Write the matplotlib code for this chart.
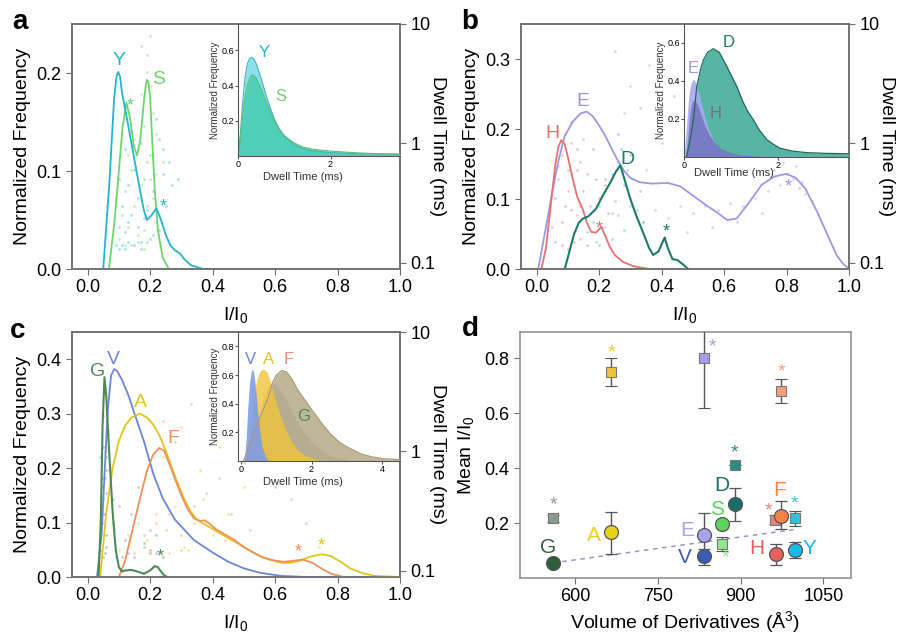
import numpy as np
import matplotlib
matplotlib.use("Agg")
import matplotlib.pyplot as plt

plt.rcParams['font.family'] = ['Liberation Sans', 'DejaVu Sans']
plt.rcParams['mathtext.default'] = 'regular'

# ---------------- panel a : Y and S ----------------
y_curve_x = [0.05, 0.07, 0.085, 0.093, 0.098, 0.104, 0.11, 0.125, 0.145, 0.165, 0.18, 0.19, 0.205, 0.22, 0.235, 0.25, 0.265, 0.28, 0.295, 0.31, 0.33, 0.35, 0.37]
y_curve_y = [0, 0.09, 0.175, 0.197, 0.201, 0.196, 0.18, 0.155, 0.12, 0.085, 0.06, 0.05, 0.055, 0.062, 0.05, 0.035, 0.024, 0.019, 0.016, 0.01, 0.004, 0.002, 0]
s_curve_x = [0.068, 0.085, 0.1, 0.112, 0.124, 0.135, 0.148, 0.158, 0.168, 0.18, 0.186, 0.19, 0.195, 0.2, 0.207, 0.215, 0.225, 0.24, 0.26]
s_curve_y = [0, 0.045, 0.1, 0.145, 0.17, 0.155, 0.125, 0.116, 0.13, 0.17, 0.187, 0.193, 0.19, 0.175, 0.13, 0.08, 0.04, 0.012, 0]

y_dots_x = [0.09, 0.10, 0.11, 0.12, 0.13, 0.14, 0.15, 0.16, 0.17, 0.18, 0.19, 0.2, 0.21, 0.22, 0.23, 0.24, 0.25, 0.26, 0.09, 0.1,
            0.11, 0.12, 0.13, 0.15, 0.17, 0.19, 0.21, 0.23, 0.12, 0.14, 0.16, 0.18, 0.2, 0.22, 0.24, 0.27, 0.29, 0.1, 0.13, 0.17]
y_dots_t = [0.14, 0.2, 0.3, 0.18, 0.45, 0.25, 0.6, 0.35, 0.15, 0.5, 0.28, 0.8, 0.4, 0.22, 1.1, 0.55, 0.3, 0.7, 0.35, 0.13,
            0.14, 0.13, 0.15, 0.14, 0.13, 0.15, 0.17, 0.19, 0.9, 1.3, 0.2, 0.24, 0.16, 1.6, 0.9, 0.45, 0.5, 0.5, 0.22, 1.0]
s_dots_x = [0.1, 0.11, 0.12, 0.13, 0.14, 0.15, 0.16, 0.17, 0.18, 0.19, 0.2, 0.21, 0.22, 0.23, 0.12, 0.14, 0.16, 0.18, 0.19, 0.2,
            0.21, 0.15, 0.17, 0.19, 0.13, 0.18, 0.2, 0.22, 0.24, 0.16, 0.19, 0.21, 0.17, 0.2]
s_dots_t = [0.16, 0.25, 0.4, 0.2, 0.6, 0.3, 0.9, 0.45, 1.4, 0.7, 2.2, 0.35, 0.55, 0.25, 0.14, 0.14, 0.15, 0.13, 4.0, 3.0,
            1.8, 1.1, 2.6, 5.5, 0.8, 0.19, 0.5, 1.2, 0.7, 0.17, 0.3, 0.8, 6.5, 8.0]

ins_a_t = [0, 0.05, 0.1, 0.15, 0.2, 0.25, 0.3, 0.35, 0.4, 0.5, 0.6, 0.7, 0.8, 0.9, 1.0, 1.2, 1.4, 1.6, 2.0, 2.5, 3.0, 3.5]
ins_y_f = [0, 0.12, 0.3, 0.44, 0.52, 0.555, 0.56, 0.55, 0.52, 0.44, 0.35, 0.27, 0.2, 0.15, 0.11, 0.065, 0.04, 0.028, 0.018, 0.012, 0.01, 0.008]
ins_s_f = [0, 0.08, 0.22, 0.33, 0.4, 0.44, 0.46, 0.455, 0.44, 0.38, 0.31, 0.25, 0.19, 0.15, 0.115, 0.075, 0.05, 0.038, 0.027, 0.018, 0.012, 0.01]

# ---------------- panel b : E, H, D ----------------
e_curve_x = [0.005, 0.03, 0.05, 0.07, 0.09, 0.115, 0.14, 0.16, 0.18, 0.2, 0.22, 0.24, 0.26, 0.28, 0.3, 0.33, 0.37, 0.42, 0.46, 0.5,
             0.54, 0.58, 0.61, 0.64, 0.68, 0.72, 0.76, 0.8, 0.83, 0.86, 0.9, 0.93, 0.96, 0.98, 1.0]
e_curve_y = [0, 0.06, 0.11, 0.155, 0.19, 0.21, 0.222, 0.225, 0.218, 0.205, 0.19, 0.172, 0.155, 0.14, 0.13, 0.124, 0.122, 0.123, 0.118, 0.105,
             0.092, 0.08, 0.07, 0.072, 0.095, 0.12, 0.132, 0.136, 0.13, 0.115, 0.08, 0.05, 0.02, 0.008, 0]
h_curve_x = [0.015, 0.03, 0.045, 0.06, 0.07, 0.079, 0.09, 0.1, 0.115, 0.13, 0.148, 0.162, 0.175, 0.19, 0.207, 0.22, 0.234, 0.25, 0.277, 0.31, 0.36]
h_curve_y = [0, 0.03, 0.09, 0.15, 0.175, 0.184, 0.178, 0.16, 0.13, 0.103, 0.085, 0.065, 0.053, 0.052, 0.06, 0.047, 0.032, 0.02, 0.01, 0.004, 0.0]
d_curve_x = [0.09, 0.105, 0.12, 0.135, 0.148, 0.165, 0.19, 0.212, 0.234, 0.255, 0.268, 0.28, 0.3, 0.32, 0.341, 0.36, 0.373, 0.39, 0.41, 0.42,
             0.435, 0.45, 0.47, 0.485]
d_curve_y = [0, 0.025, 0.05, 0.066, 0.072, 0.075, 0.086, 0.105, 0.122, 0.14, 0.148, 0.13, 0.1, 0.075, 0.052, 0.03, 0.02, 0.025, 0.045, 0.03,
             0.014, 0.013, 0.006, 0]

h_dots_x = [0.05, 0.06, 0.07, 0.08, 0.09, 0.1, 0.11, 0.12, 0.13, 0.14, 0.15, 0.16, 0.17, 0.18, 0.19, 0.2, 0.06, 0.08, 0.1, 0.12,
            0.14, 0.16, 0.07, 0.09, 0.11, 0.13, 0.15, 0.08, 0.1, 0.12, 0.14, 0.22, 0.24, 0.11, 0.13]
h_dots_t = [0.2, 0.35, 0.5, 0.8, 0.3, 0.6, 1.0, 0.45, 0.25, 0.7, 0.4, 0.55, 0.3, 0.9, 0.5, 0.35, 0.15, 0.14, 0.13, 0.15,
            0.16, 0.14, 0.65, 1.2, 0.28, 0.9, 1.1, 0.22, 0.4, 0.18, 0.3, 0.45, 0.26, 1.5, 0.6]
e_dots_x = [0.22, 0.26, 0.3, 0.34, 0.38, 0.42, 0.46, 0.5, 0.54, 0.58, 0.62, 0.66, 0.7, 0.74, 0.78, 0.8, 0.82, 0.84, 0.86, 0.88,
            0.76, 0.79, 0.83, 0.85, 0.3, 0.36, 0.44, 0.52, 0.6, 0.68, 0.25, 0.33, 0.48, 0.56, 0.64, 0.72, 0.35, 0.28, 0.4, 0.9]
e_dots_t = [0.2, 0.25, 0.3, 0.22, 0.28, 0.24, 0.3, 0.26, 0.3, 0.28, 0.32, 0.3, 0.35, 0.4, 0.45, 0.55, 0.5, 0.42, 0.38, 0.33,
            0.6, 0.7, 0.65, 0.48, 3.0, 4.5, 2.5, 1.2, 0.9, 1.5, 6.0, 2.0, 0.18, 0.2, 0.22, 0.26, 0.6, 1.8, 1.0, 0.25]
d_dots_x = [0.16, 0.18, 0.2, 0.22, 0.24, 0.26, 0.28, 0.3, 0.32, 0.34, 0.19, 0.21, 0.23, 0.25, 0.27, 0.29, 0.31, 0.2, 0.24, 0.28,
            0.26, 0.3, 0.22, 0.33]
d_dots_t = [0.18, 0.22, 0.3, 0.4, 0.55, 0.7, 0.45, 0.35, 0.28, 0.22, 0.15, 0.2, 0.26, 0.33, 0.9, 0.6, 0.5, 0.14, 0.16, 0.19,
            1.2, 0.8, 0.5, 0.4]

ins_d_t = [0.05, 0.1, 0.15, 0.2, 0.27, 0.35, 0.41, 0.5, 0.62, 0.75, 0.9, 1.0, 1.12, 1.25, 1.35, 1.47, 1.6, 1.76, 1.9, 2.04, 2.3, 2.6, 3.0, 3.5]
ins_d_f = [0, 0.05, 0.12, 0.195, 0.37, 0.46, 0.51, 0.55, 0.57, 0.55, 0.48, 0.43, 0.37, 0.29, 0.24, 0.195, 0.14, 0.09, 0.065, 0.045, 0.03, 0.022, 0.018, 0.016]
ins_e_t = [0, 0.05, 0.1, 0.15, 0.2, 0.25, 0.3, 0.35, 0.4, 0.5, 0.6, 0.7, 0.8, 1.0, 1.2, 1.5, 2.0, 3.5]
ins_e_f = [0, 0.15, 0.32, 0.39, 0.41, 0.39, 0.35, 0.3, 0.25, 0.16, 0.1, 0.06, 0.035, 0.015, 0.008, 0.005, 0.003, 0.002]
ins_h_t = [0.03, 0.08, 0.12, 0.17, 0.22, 0.28, 0.35, 0.45, 0.55, 0.65, 0.8, 1.0, 1.2, 1.5, 2.0]
ins_h_f = [0, 0.1, 0.22, 0.29, 0.3, 0.28, 0.23, 0.16, 0.11, 0.075, 0.04, 0.02, 0.01, 0.005, 0.002]

# ---------------- panel c : G, V, A, F ----------------
g_curve_x = [0.035, 0.042, 0.048, 0.054, 0.06, 0.066, 0.072, 0.08, 0.09, 0.1, 0.11, 0.12, 0.14, 0.16, 0.18, 0.2, 0.215, 0.225, 0.235, 0.245, 0.255]
g_curve_y = [0, 0.1, 0.28, 0.367, 0.33, 0.26, 0.2, 0.12, 0.05, 0.018, 0.01, 0.012, 0.013, 0.01, 0.006, 0.012, 0.02, 0.018, 0.01, 0.003, 0]
v_curve_x = [0.03, 0.045, 0.055, 0.065, 0.075, 0.085, 0.095, 0.11, 0.13, 0.15, 0.18, 0.21, 0.24, 0.28, 0.34, 0.4, 0.45, 0.5, 0.55, 0.62, 0.7, 1.0]
v_curve_y = [0, 0.08, 0.2, 0.31, 0.37, 0.382, 0.378, 0.362, 0.335, 0.3, 0.25, 0.19, 0.145, 0.105, 0.068, 0.045, 0.028, 0.016, 0.008, 0.002, 0, 0]
a_curve_x = [0.04, 0.06, 0.08, 0.1, 0.12, 0.14, 0.167, 0.19, 0.21, 0.23, 0.25, 0.27, 0.29, 0.31, 0.33, 0.35, 0.38, 0.41, 0.44, 0.47,
             0.5, 0.54, 0.58, 0.62, 0.65, 0.68, 0.71, 0.75, 0.78, 0.81, 0.84, 0.88, 0.92, 1.0]
a_curve_y = [0, 0.12, 0.2, 0.25, 0.278, 0.293, 0.3, 0.293, 0.28, 0.26, 0.232, 0.2, 0.17, 0.142, 0.12, 0.105, 0.095, 0.085, 0.075, 0.065,
             0.055, 0.042, 0.032, 0.026, 0.026, 0.03, 0.037, 0.042, 0.038, 0.028, 0.016, 0.007, 0.002, 0]
f_curve_x = [0.1, 0.12, 0.145, 0.17, 0.19, 0.21, 0.229, 0.245, 0.26, 0.28, 0.3, 0.32, 0.34, 0.36, 0.375, 0.39, 0.41, 0.44, 0.47, 0.5,
             0.53, 0.56, 0.6, 0.63, 0.66, 0.69, 0.72, 0.75, 0.78, 0.82]
f_curve_y = [0, 0.03, 0.09, 0.15, 0.195, 0.225, 0.237, 0.232, 0.21, 0.18, 0.15, 0.125, 0.108, 0.103, 0.104, 0.098, 0.088, 0.078, 0.068, 0.055,
             0.045, 0.036, 0.03, 0.028, 0.03, 0.032, 0.026, 0.015, 0.006, 0]

g_dots_x = [0.04, 0.045, 0.05, 0.055, 0.06, 0.065, 0.05, 0.055, 0.06, 0.045, 0.05, 0.055, 0.06, 0.05, 0.2, 0.22, 0.24, 0.18]
g_dots_t = [0.15, 0.25, 0.4, 0.6, 0.9, 1.4, 2.0, 0.3, 0.2, 0.5, 0.13, 0.14, 0.7, 1.1, 0.15, 0.2, 0.13, 0.17]
v_dots_x = [0.04, 0.05, 0.06, 0.07, 0.08, 0.1, 0.12, 0.14, 0.16, 0.18, 0.2, 0.22, 0.045, 0.055, 0.065, 0.09, 0.11, 0.13, 0.15, 0.04, 0.06, 0.08]
v_dots_t = [0.2, 0.3, 0.45, 0.7, 0.25, 0.35, 0.18, 0.3, 0.5, 0.16, 0.22, 0.14, 0.6, 1.0, 1.5, 0.13, 0.13, 0.14, 0.13, 0.9, 0.16, 0.4]
a_dots_x = [0.1, 0.13, 0.16, 0.19, 0.22, 0.25, 0.28, 0.31, 0.34, 0.37, 0.4, 0.45, 0.5, 0.15, 0.2, 0.26, 0.32, 0.12, 0.18, 0.24, 0.3, 0.36, 0.42, 0.74]
a_dots_t = [0.15, 0.2, 0.25, 0.18, 0.3, 0.22, 0.35, 0.16, 0.25, 0.4, 0.2, 0.3, 0.5, 0.14, 0.14, 0.14, 0.15, 3.0, 1.2, 0.9, 1.6, 0.7, 1.1, 0.16]
f_dots_x = [0.18, 0.22, 0.26, 0.3, 0.34, 0.38, 0.42, 0.46, 0.5, 0.55, 0.6, 0.65, 0.7, 0.24, 0.28, 0.33, 0.4, 0.48, 0.56, 0.68, 0.2, 0.3, 0.44, 0.52]
f_dots_t = [0.2, 0.25, 0.3, 0.2, 0.35, 0.45, 0.6, 0.3, 0.8, 1.0, 0.5, 0.4, 0.25, 1.8, 1.2, 2.5, 2.0, 1.5, 3.0, 0.9, 0.14, 0.15, 0.18, 0.22]

ins_v_t = [0.1, 0.15, 0.2, 0.25, 0.3, 0.33, 0.36, 0.4, 0.45, 0.5, 0.55, 0.6, 0.7, 0.8]
ins_v_f = [0, 0.15, 0.38, 0.55, 0.63, 0.64, 0.62, 0.55, 0.42, 0.29, 0.18, 0.1, 0.03, 0]
ins_a2_t = [0.15, 0.25, 0.35, 0.45, 0.55, 0.64, 0.75, 0.85, 0.97, 1.1, 1.25, 1.4, 1.6, 1.8, 2.0, 2.3]
ins_a2_f = [0, 0.2, 0.42, 0.57, 0.63, 0.642, 0.62, 0.54, 0.43, 0.33, 0.23, 0.15, 0.08, 0.04, 0.02, 0]
ins_f_t = [0.2, 0.35, 0.5, 0.65, 0.8, 0.95, 1.1, 1.3, 1.5, 1.7, 2.0, 2.3, 2.6, 3.0]
ins_f_f = [0, 0.15, 0.33, 0.46, 0.53, 0.54, 0.5, 0.42, 0.32, 0.23, 0.13, 0.07, 0.03, 0.01]
ins_g_t = [0.07, 0.2, 0.35, 0.5, 0.65, 0.78, 0.9, 1.0, 1.16, 1.3, 1.45, 1.6, 1.8, 2.0, 2.3, 2.53, 2.8, 3.0, 3.4, 3.7, 4.0, 4.5]
ins_g_f = [0, 0.08, 0.18, 0.28, 0.37, 0.45, 0.55, 0.6, 0.632, 0.62, 0.57, 0.5, 0.43, 0.36, 0.26, 0.19, 0.13, 0.1, 0.05, 0.03, 0.018, 0.01]

# ---------------- panel d : mean I/I0 vs volume ----------------
res_names = ['G', 'A', 'E', 'V', 'S', 'D', 'F', 'H', 'Y']
res_volume = [560, 665, 834, 834, 867, 889, 974, 964, 998]
res_colors = ['#2f5f3a', '#e8d21a', '#a9a2ec', '#3b5bb5', '#5ad65a', '#1a6e6a', '#f0844a', '#e8605a', '#1ab8e8']
main_mean = [0.055, 0.166, 0.156, 0.081, 0.196, 0.269, 0.226, 0.088, 0.103]
main_lo = [0.055, 0.088, 0.08, 0.048, 0.196, 0.206, 0.178, 0.048, 0.072]
main_hi = [0.055, 0.239, 0.235, 0.106, 0.196, 0.329, 0.279, 0.124, 0.13]
sec_colors = ['#8c9c8c', '#f2c33a', '#a69de8', '#8ee88e', '#2a8a84', '#f0a080', '#e88080', '#30c0e0']
sec_volume = [560, 665, 834, 867, 889, 974, 963, 998]
sec_mean = [0.218, 0.75, 0.802, 0.124, 0.41, 0.68, 0.211, 0.218]
sec_lo = [0.205, 0.70, 0.619, 0.10, 0.41, 0.635, 0.195, 0.19]
sec_hi = [0.23, 0.80, 0.96, 0.148, 0.41, 0.724, 0.23, 0.245]
sec_star_y = [0.265, 0.82, 0.84, 0.072, 0.454, 0.75, 0.245, 0.268]
sec_star_x = [560, 665, 848, 872, 889, 974, 951, 998]
lab_x = [550, 634, 804, 798, 857, 865, 971, 929, 1024]
lab_y = [0.112, 0.156, 0.172, 0.076, 0.25, 0.338, 0.317, 0.106, 0.108]
trend_x = [560, 1000]
trend_y = [0.055, 0.177]

col = {'Y': '#22b5d0', 'S': '#6cd66c', 'E': '#9d97e6', 'H': '#e8706e', 'D': '#1e7a68',
       'V': '#6a86d8', 'A': '#e3c51c', 'F': '#f0905a', 'G': '#4a8b58'}

W, H = 903, 642
fig = plt.figure(figsize=(W / 100, H / 100), dpi=100)
spine_c = '#6e6e6e'


def frac(l, t, r, b):
    return [l / W, 1 - b / H, (r - l) / W, (b - t) / H]


def hist_panel(rect, ylim, yticks):
    ax = fig.add_axes(rect)
    tw = ax.twinx()
    ax.set_zorder(tw.get_zorder() + 1)
    ax.patch.set_visible(False)
    ax.set_xlim(-0.05, 1.0)
    ax.set_ylim(*ylim)
    ax.set_xticks(np.arange(0, 1.01, 0.2))
    ax.set_xticklabels(['%.1f' % v for v in np.arange(0, 1.01, 0.2)])
    ax.set_yticks(yticks)
    ax.set_yticklabels(['%.1f' % v for v in yticks])
    ax.tick_params(labelsize=13, direction='out', length=4, color=spine_c)
    ax.set_ylabel('Normalized Frequency', fontsize=14, labelpad=4)
    ax.set_xlabel('I/I$_0$', fontsize=14, labelpad=6)
    tw.set_yscale('log')
    tw.set_ylim(0.089, 10)
    tw.set_yticks([0.1, 1, 10])
    tw.set_yticklabels(['0.1', '1', '10'])
    tw.minorticks_off()
    tw.tick_params(labelsize=13, direction='out', length=4, color=spine_c)
    tw.set_ylabel('Dwell Time (ms)', fontsize=14, rotation=270, va='center')
    tw.yaxis.set_label_coords(1.115, 0.5)
    for a in (ax, tw):
        for s in a.spines.values():
            s.set_color(spine_c)
            s.set_linewidth(1.1)
    return ax, tw


def inset(ax, bounds, xlim, ylim, xticks, yticks, xlab_pos):
    ia = ax.inset_axes(bounds)
    ia.patch.set_visible(False)
    ia.set_xlim(*xlim)
    ia.set_ylim(*ylim)
    ia.set_xticks(xticks)
    ia.set_yticks(yticks)
    ia.set_yticklabels(['%.1f' % v for v in yticks])
    ia.tick_params(labelsize=6.5, direction='out', length=2, pad=1, color='#555555')
    ia.spines['top'].set_visible(False)
    ia.spines['right'].set_visible(False)
    for s in ('left', 'bottom'):
        ia.spines[s].set_color('#555555')
    ia.set_xlabel('Dwell Time (ms)', fontsize=8, color='#333333', va='center')
    ia.xaxis.set_label_coords(*xlab_pos)
    ia.set_ylabel('Normalized Frequency', fontsize=7, labelpad=1, color='#333333')
    return ia


dot_kw = dict(s=4, alpha=0.4, linewidths=0)

# ---- a ----
ax, tw = hist_panel(frac(72, 24, 400, 269), (0, 0.25), [0.0, 0.1, 0.2])
tw.scatter(s_dots_x, s_dots_t, color=col['S'], **dot_kw)
tw.scatter(y_dots_x, y_dots_t, color=col['Y'], **dot_kw)
ax.plot(s_curve_x, s_curve_y, color=col['S'], lw=1.3)
ax.plot(y_curve_x, y_curve_y, color=col['Y'], lw=1.3)
ax.text(0.099, 0.213, 'Y', color=col['Y'], fontsize=14, ha='center', va='center')
ax.text(0.228, 0.193, 'S', color=col['S'], fontsize=14, ha='center', va='center')
ax.text(0.138, 0.166, '*', color=col['S'], fontsize=13, ha='center', va='center')
ax.text(0.241, 0.063, '*', color=col['Y'], fontsize=13, ha='center', va='center')
ia = inset(ax, [0.506, 0.462, 0.494, 0.538], (0, 3.5), (0, 0.75), [0, 2], [0.2, 0.4, 0.6], (0.40, -0.16))
ia.fill_between(ins_a_t, ins_y_f, color='#7fdcec', alpha=0.9, lw=0)
ia.plot(ins_a_t, ins_y_f, color='#4ab0c0', lw=0.8)
ia.fill_between(ins_a_t, ins_s_f, color='#3ccaa8', alpha=0.75, lw=0)
ia.plot(ins_a_t, ins_s_f, color='#58c070', lw=0.8)
ia.text(0.56, 0.585, 'Y', color=col['Y'], fontsize=12, ha='center', va='center')
ia.text(0.92, 0.337, 'S', color=col['S'], fontsize=12, ha='center', va='center')

# ---- b ----
ax, tw = hist_panel(frac(521, 24, 849, 269), (0, 0.35), [0.0, 0.1, 0.2, 0.3])
tw.scatter(e_dots_x, e_dots_t, color=col['E'], **dot_kw)
tw.scatter(h_dots_x, h_dots_t, color=col['H'], **dot_kw)
tw.scatter(d_dots_x, d_dots_t, color='#40b0b8', **dot_kw)
ax.plot(e_curve_x, e_curve_y, color=col['E'], lw=1.3)
ax.plot(h_curve_x, h_curve_y, color=col['H'], lw=1.3)
ax.plot(d_curve_x, d_curve_y, color=col['D'], lw=1.5)
ax.text(0.148, 0.239, 'E', color=col['E'], fontsize=14, ha='center', va='center')
ax.text(0.052, 0.194, 'H', color=col['H'], fontsize=14, ha='center', va='center')
ax.text(0.292, 0.156, 'D', color=col['D'], fontsize=14, ha='center', va='center')
ax.text(0.202, 0.057, '*', color=col['H'], fontsize=13, ha='center', va='center')
ax.text(0.415, 0.053, '*', color=col['D'], fontsize=13, ha='center', va='center')
ax.text(0.805, 0.117, '*', color=col['E'], fontsize=13, ha='center', va='center')
ia = inset(ax, [0.497, 0.458, 0.503, 0.542], (0, 3.5), (0, 0.7), [0, 2], [0.2, 0.4, 0.6], (0.30, -0.125))
ia.fill_between(ins_d_t, ins_d_f, color='#4fb0a0', alpha=0.95, lw=0)
ia.plot(ins_d_t, ins_d_f, color='#1e6a5a', lw=0.9)
ia.fill_between(ins_e_t, ins_e_f, color='#a8a8f0', alpha=0.9, lw=0)
ia.fill_between(ins_h_t, ins_h_f, color='#5858a8', alpha=0.55, lw=0)
ia.text(0.94, 0.6, 'D', color=col['D'], fontsize=12, ha='center', va='center')
ia.text(0.2, 0.468, 'E', color=col['E'], fontsize=12, ha='center', va='center')
ia.text(0.66, 0.23, 'H', color='#7a6a7a', fontsize=12, ha='center', va='center')

# ---- c ----
ax, tw = hist_panel(frac(72, 332, 400, 577), (0, 0.45), [0.0, 0.1, 0.2, 0.3, 0.4])
tw.scatter(f_dots_x, f_dots_t, color=col['F'], **dot_kw)
tw.scatter(a_dots_x, a_dots_t, color=col['A'], **dot_kw)
tw.scatter(v_dots_x, v_dots_t, color=col['V'], **dot_kw)
tw.scatter(g_dots_x, g_dots_t, color=col['G'], **dot_kw)
ax.plot(v_curve_x, v_curve_y, color=col['V'], lw=1.3)
ax.plot(a_curve_x, a_curve_y, color=col['A'], lw=1.3)
ax.plot(f_curve_x, f_curve_y, color=col['F'], lw=1.3)
ax.plot(g_curve_x, g_curve_y, color=col['G'], lw=1.5)
ax.text(0.031, 0.378, 'G', color=col['G'], fontsize=14, ha='center', va='center')
ax.text(0.083, 0.4, 'V', color=col['V'], fontsize=14, ha='center', va='center')
ax.text(0.17, 0.321, 'A', color=col['A'], fontsize=14, ha='center', va='center')
ax.text(0.273, 0.254, 'F', color=col['F'], fontsize=14, ha='center', va='center')
ax.text(0.674, 0.046, '*', color=col['F'], fontsize=13, ha='center', va='center')
ax.text(0.749, 0.057, '*', color=col['A'], fontsize=13, ha='center', va='center')
ax.text(0.231, 0.037, '*', color=col['G'], fontsize=13, ha='center', va='center')
ia = inset(ax, [0.506, 0.473, 0.494, 0.527], (-0.08, 4.5), (0, 0.9), [0, 2, 4], [0.2, 0.4, 0.6, 0.8], (0.40, -0.16))
ia.fill_between(ins_g_t, ins_g_f, color='#bdb394', alpha=0.95, lw=0)
ia.plot(ins_g_t, ins_g_f, color='#a89878', lw=0.8)
ia.fill_between(ins_f_t, ins_f_f, color='#a8a088', alpha=0.45, lw=0)
ia.fill_between(ins_a2_t, ins_a2_f, color='#f2c43a', alpha=0.8, lw=0)
ia.fill_between(ins_v_t, ins_v_f, color='#7c9ce6', alpha=0.9, lw=0)
ia.text(0.28, 0.707, 'V', color=col['V'], fontsize=12, ha='center', va='center')
ia.text(0.78, 0.707, 'A', color=col['A'], fontsize=12, ha='center', va='center')
ia.text(1.35, 0.707, 'F', color='#e89080', fontsize=12, ha='center', va='center')
ia.text(1.78, 0.31, 'G', color=col['G'], fontsize=12, ha='center', va='center')

# ---- d ----
ax = fig.add_axes(frac(520, 332, 851, 578))
ax.set_xlim(500, 1100)
ax.set_ylim(0, 0.895)
ax.plot(trend_x, trend_y, ls=(0, (3, 3)), color='#a090c8', lw=1.1, zorder=1)
for i in range(len(sec_volume)):
    m = sec_mean[i]
    ax.errorbar(sec_volume[i], m, yerr=[[m - sec_lo[i]], [sec_hi[i] - m]], fmt='s', ms=7,
                mfc=sec_colors[i], mec='#777777', mew=0.8, ecolor='#555555', elinewidth=1, capsize=4, zorder=3)
    ax.text(sec_star_x[i], sec_star_y[i], '*', color=sec_colors[i], fontsize=14, ha='center', va='center')
for i in range(len(res_volume)):
    m = main_mean[i]
    ax.errorbar(res_volume[i], m, yerr=[[m - main_lo[i]], [main_hi[i] - m]], fmt='o', ms=10,
                mfc=res_colors[i], mec='#555555', mew=0.9, ecolor='#555555', elinewidth=1, capsize=4, zorder=4)
    ax.text(lab_x[i], lab_y[i], res_names[i], color=res_colors[i], fontsize=15, ha='center', va='center')
ax.set_xticks([600, 750, 900, 1050])
ax.set_yticks([0.2, 0.4, 0.6, 0.8])
ax.set_yticklabels(['0.2', '0.4', '0.6', '0.8'])
ax.tick_params(labelsize=13, direction='out', length=4, color=spine_c)
for s in ax.spines.values():
    s.set_color('#8a8a8a')
    s.set_linewidth(1.1)
ax.set_xlabel('Volume of Derivatives (Å$^3$)', fontsize=14, labelpad=3)
ax.set_ylabel('Mean I/I$_0$', fontsize=14, labelpad=6)

for lab, x, y in [('a', 20, 22), ('b', 470, 22), ('c', 18, 331), ('d', 470, 329)]:
    fig.text(x / W, 1 - y / H, lab, fontsize=20, fontweight='bold', ha='center', va='center')

fig.savefig('out.png', dpi=100)
